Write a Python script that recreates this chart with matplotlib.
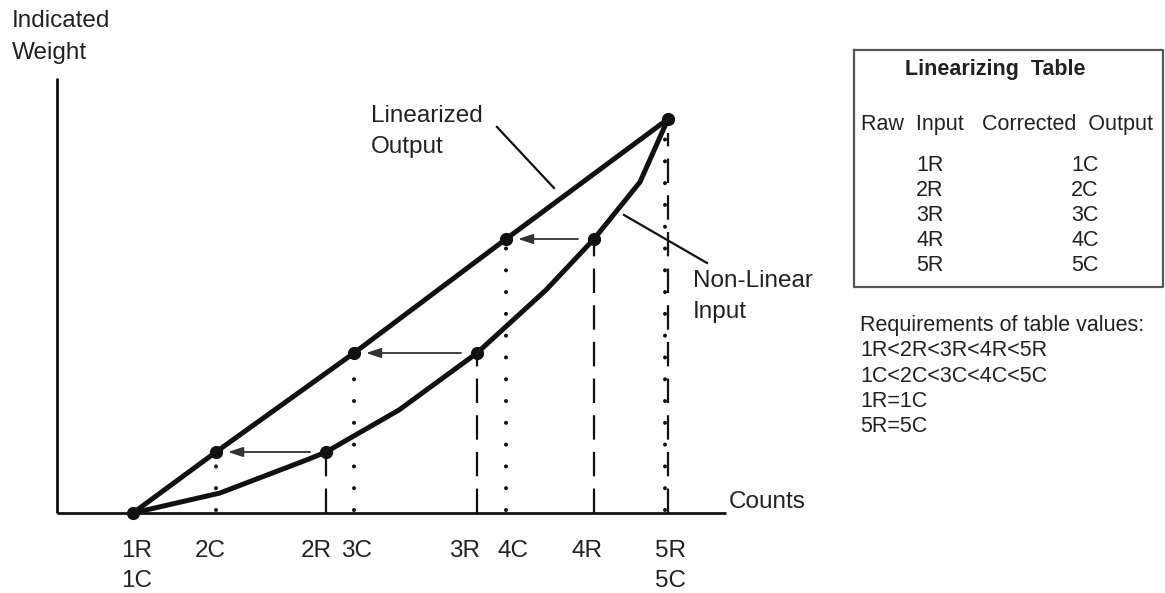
import matplotlib.pyplot as plt
from matplotlib import transforms

plt.rcParams['font.family'] = ['Liberation Sans', 'DejaVu Sans']

# linearizing table: raw input counts (R) -> corrected output counts (C)
raw_labels = ['1R', '2R', '3R', '4R', '5R']
cor_labels = ['1C', '2C', '3C', '4C', '5C']
raw_counts = [76, 269, 420, 537, 611]
cor_counts = [76, 159, 297, 449, 611]
weights = [0, 61, 160, 274, 394]

# traced non-linear input curve
curve_counts = [76, 163, 252, 269, 342, 420, 489, 537, 583, 611]
curve_weights = [0, 20, 54, 61, 103, 160, 223, 274, 331, 394]

requirements = ['Requirements of table values:', '1R<2R<3R<4R<5R',
                '1C<2C<3C<4C<5C', '1R=1C', '5R=5C']

ink = '#111111'
txt = '#222222'

fig = plt.figure(figsize=(11.65, 5.93), dpi=100)
ax = fig.add_axes([0, 0, 1, 1])
ax.set_xlim(-57, 1108)
ax.set_ylim(-80, 513)
ax.axis('off')

# axes
ax.plot([0, 669], [0, 0], color=ink, lw=2, solid_capstyle='butt')
ax.plot([0, 0], [0, 435], color=ink, lw=2, solid_capstyle='butt')

# vertical guides: dashed at raw, dotted at corrected
shift = transforms.offset_copy(ax.transData, fig=fig, x=-3, y=0, units='dots')
for i in range(1, 5):
    top = weights[i] if i < 4 else weights[i] - 14
    ax.plot([raw_counts[i]] * 2, [0, top], color=ink, lw=1.6,
            linestyle=(0, (11, 5.5)), dash_capstyle='butt')
    tr = shift if cor_counts[i] == raw_counts[i] else ax.transData
    ax.plot([cor_counts[i]] * 2, [3, weights[i] - 6], color=ink, lw=2.9,
            linestyle=(0, (0.01, 5.4)), dash_capstyle='round', transform=tr)

# curves
ax.plot(cor_counts, weights, color=ink, lw=3.6, solid_joinstyle='round',
        solid_capstyle='round', zorder=3)
ax.plot(curve_counts, curve_weights, color=ink, lw=3.6, solid_joinstyle='round',
        solid_capstyle='round', zorder=3)
ax.plot(cor_counts, weights, 'o', ms=8.5, color=ink, zorder=4)
ax.plot(raw_counts[1:4], weights[1:4], 'o', ms=8.5, color=ink, zorder=4)

# arrows from raw to corrected
for i in range(1, 4):
    ax.annotate('', xy=(cor_counts[i] + 12, weights[i]),
                xytext=(raw_counts[i] - 16, weights[i]),
                arrowprops=dict(arrowstyle='-|>,head_length=0.9,head_width=0.3',
                                color='#333333', lw=1.3, shrinkA=0, shrinkB=0))

# leader lines
ax.plot([440, 497], [386, 325], color=ink, lw=1.6)
ax.plot([567, 650], [298, 250], color=ink, lw=1.6)

fs = 17.5
ax.text(-45, 486, 'Indicated', fontsize=fs, color=txt, va='baseline')
ax.text(-45, 454, 'Weight', fontsize=fs, color=txt, va='baseline')
ax.text(314, 391, 'Linearized', fontsize=fs, color=txt, va='baseline')
ax.text(314, 360, 'Output', fontsize=fs, color=txt, va='baseline')
ax.text(636, 226, 'Non-Linear', fontsize=fs, color=txt, va='baseline')
ax.text(636, 195, 'Input', fontsize=fs, color=txt, va='baseline')
ax.text(672, 5, 'Counts', fontsize=fs, color=txt, va='baseline')

# count labels under the axis
nudge = {'1R': 4, '2C': -6, '2R': -10, '3C': 3, '3R': -12, '4C': 7, '4R': -7, '5R': 3}
for lab, x in zip(raw_labels, raw_counts):
    ax.text(x + nudge[lab], -44, lab, fontsize=fs, color=txt, ha='center', va='baseline')
for lab, x in zip(cor_labels[1:4], cor_counts[1:4]):
    ax.text(x + nudge[lab], -44, lab, fontsize=fs, color=txt, ha='center', va='baseline')
ax.text(raw_counts[0] + 4, -74, cor_labels[0], fontsize=fs, color=txt, ha='center', va='baseline')
ax.text(raw_counts[4] + 3, -74, cor_labels[4], fontsize=fs, color=txt, ha='center', va='baseline')

# table box
tfs = 15.5
ax.plot([797, 1106, 1106, 797, 797], [463, 463, 226, 226, 463], color='#555555', lw=1.6)
ax.text(938, 438, 'Linearizing  Table', fontsize=tfs, fontweight='bold', color=txt,
        ha='center', va='baseline')
ax.text(855, 383, 'Raw  Input', fontsize=tfs, color=txt, ha='center', va='baseline')
ax.text(1010, 383, 'Corrected  Output', fontsize=tfs, color=txt, ha='center', va='baseline')
for k, (r, c) in enumerate(zip(raw_labels, cor_labels)):
    ax.text(873, 342 - 25 * k, r, fontsize=tfs, color=txt, ha='center', va='baseline')
    ax.text(1028, 342 - 25 * k, c, fontsize=tfs, color=txt, ha='center', va='baseline')

for k, line in enumerate(requirements):
    ax.text(803, 182 - 25.3 * k, line, fontsize=tfs, color=txt, va='baseline')

fig.savefig('out.png', dpi=100)
